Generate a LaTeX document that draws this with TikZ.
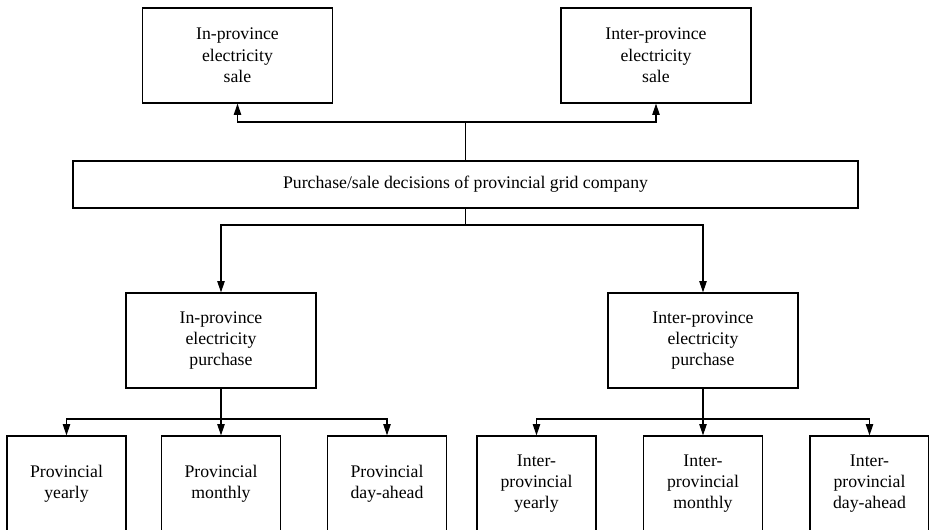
\documentclass[tikz,border=0pt]{standalone}
\usepackage{fontspec}
\setmainfont{Liberation Serif}
\usepackage{tikz}
\usetikzlibrary{positioning,arrows.meta}

\begin{document}
\begin{tikzpicture}[
  x=0.75pt, y=-0.75pt,
  caja/.style={draw, line width=0.8pt, align=center, font=\fontsize{13.3}{16}\selectfont, inner sep=0pt, minimum width=142.5pt, minimum height=71.25pt},
  franja/.style={caja, minimum width=588.75pt, minimum height=35.25pt},
  hoja/.style={caja, minimum width=89.25pt},
  flecha/.style={-{Triangle[length=8.5pt,width=5.5pt]}, line width=0.8pt}
]
\useasboundingbox (0,0) rectangle (929,529);
\clip (0,0) rectangle (929,529);

% ventas
\node[caja] (salein) at (237.5,55.5) {In-province\\electricity\\sale};
\node[caja] (saleinter) at (656,55.5) {Inter-province\\electricity\\sale};

% decision
\node[franja] (dec) at (465.5,184.5) {Purchase/sale decisions of provincial grid company};

% compras
\node[caja] (buyin) at (221,340.5) {In-province\\electricity\\purchase};
\node[caja] (buyinter) at (703,340.5) {Inter-province\\electricity\\purchase};

% mercados
\node[hoja] (py) at (66.5,483.5) {Provincial\\yearly};
\node[hoja] (pm) at (221,483.5) {Provincial\\monthly};
\node[hoja] (pd) at (387,483.5) {Provincial\\day-ahead};
\node[hoja] (iy) at (536.5,483.5) {Inter-\\provincial\\yearly};
\node[hoja] (im) at (703,483.5) {Inter-\\provincial\\monthly};
\node[hoja] (id) at (869.5,483.5) {Inter-\\provincial\\day-ahead};

% uniones
\coordinate (tj) at (dec.north |- 0,122);
\coordinate (mj) at (dec.south |- 0,225);
\coordinate (lj) at (buyin.south |- 0,419);
\coordinate (rj) at (buyinter.south |- 0,419);

\draw[flecha] (dec.north) -- (tj) -| (salein.south);
\draw[flecha] (dec.north) -- (tj) -| (saleinter.south);
\draw[flecha] (dec.south) -- (mj) -| (buyin.north);
\draw[flecha] (dec.south) -- (mj) -| (buyinter.north);
\draw[flecha] (buyin.south) -- (lj) -| (py.north);
\draw[flecha] (buyin.south) -- (pm.north);
\draw[flecha] (buyin.south) -- (lj) -| (pd.north);
\draw[flecha] (buyinter.south) -- (rj) -| (iy.north);
\draw[flecha] (buyinter.south) -- (im.north);
\draw[flecha] (buyinter.south) -- (rj) -| (id.north);
\end{tikzpicture}
\end{document}
